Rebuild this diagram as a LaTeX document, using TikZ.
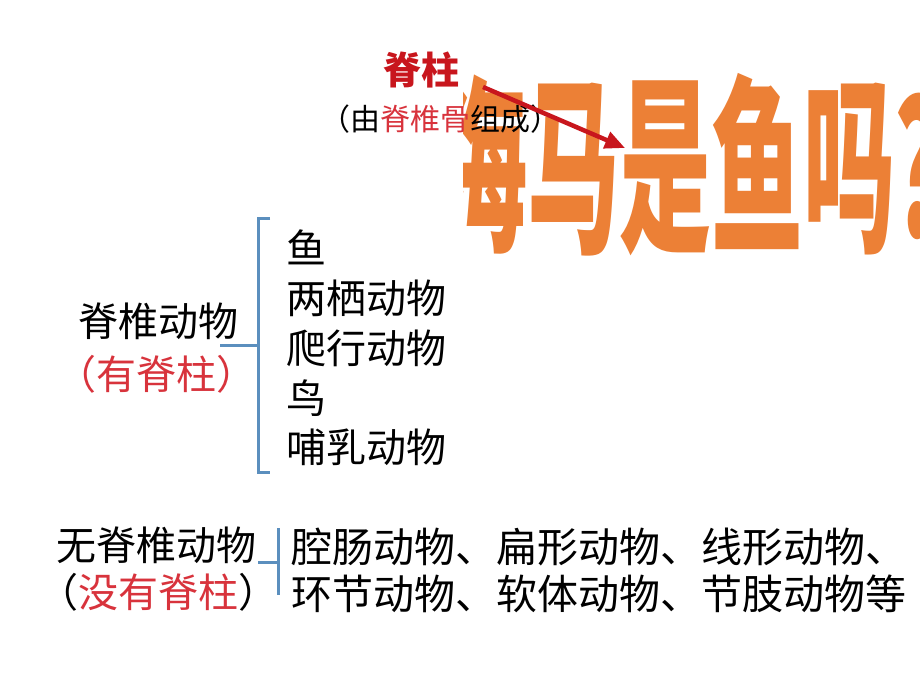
\documentclass[tikz,border=0pt]{standalone}
\usepackage{fontspec}
\usetikzlibrary{arrows.meta,positioning}
\newfontfamily\cjk{Noto Sans CJK SC}
\definecolor{spinered}{HTML}{C8161D}
\definecolor{notered}{HTML}{D8333C}
\definecolor{bracketblue}{HTML}{5B8FBE}
\definecolor{titleorange}{HTML}{EC8036}

\begin{document}
\begin{tikzpicture}[x=1pt,y=-1pt,
  txt/.style={anchor=base west,inner sep=0pt,font=\cjk\fontsize{40}{40}\selectfont},
  txtwide/.style={txt,font=\cjk\fontsize{41}{41}\selectfont},
  txtsmall/.style={txt,font=\cjk\fontsize{30}{30}\selectfont},
  bracketline/.style={draw=bracketblue,line width=3pt},
  spinearrow/.style={draw=spinered,line width=4.5pt,-{Triangle[length=20pt,width=17pt]}}]
\useasboundingbox[fill=white] (0,0) rectangle (920,690);
% title, partly hidden on the left
\begin{scope}
\clip (463,0) rectangle (920,690);
\node[anchor=base west,inner sep=0pt,xscale=0.485,text=titleorange,
      font=\cjk\bfseries\fontsize{190}{190}\selectfont] (title) at (435,237) {海马是鱼吗？};
\end{scope}
% spine label
\node[txt,text=spinered,font=\cjk\bfseries\fontsize{38}{38}\selectfont] (spine) at (383,85) {脊柱};
\node[txtsmall] (spinenote) at (320,130) {（由{\color{notered}脊椎骨}组成）};
\coordinate (arrowstart) at (483,87);
\coordinate (arrowtip) at (625,148);
\draw[spinearrow] (arrowstart) -- (arrowtip);
% vertebrates
\node[txt] (vert) at (78,336) {脊椎动物};
\node[txt,text=notered] (vertnote) at (56,389) {（有脊柱）};
\node[txt] (fish) at (286,263) {鱼};
\node[txt] (amph) at (286,313) {两栖动物};
\node[txt] (rept) at (286,363) {爬行动物};
\node[txt] (bird) at (286,413) {鸟};
\node[txt] (mamm) at (286,462) {哺乳动物};
\coordinate (vtop) at (270,218);
\coordinate (vbot) at (270,472);
\coordinate (vtick) at (220,345);
\draw[bracketline] (vtop) -| (258,472) -- (vbot);
\draw[bracketline] (vtick) -- (258,345);
% invertebrates
\node[txt] (invert) at (56,560) {无脊椎动物};
\node[txt] (invertnote) at (38,607) {（{\color{notered}没有脊柱}）};
\node[txtwide] (groups1) at (291,562) {腔肠动物、扁形动物、线形动物、};
\node[txtwide] (groups2) at (291,609) {环节动物、软体动物、节肢动物等};
\coordinate (itop) at (278,528);
\coordinate (ibot) at (278,595);
\coordinate (itick) at (258,562);
\draw[bracketline] (itop) -- (ibot);
\draw[bracketline] (itick) -- (278,562);
\end{tikzpicture}
\end{document}
